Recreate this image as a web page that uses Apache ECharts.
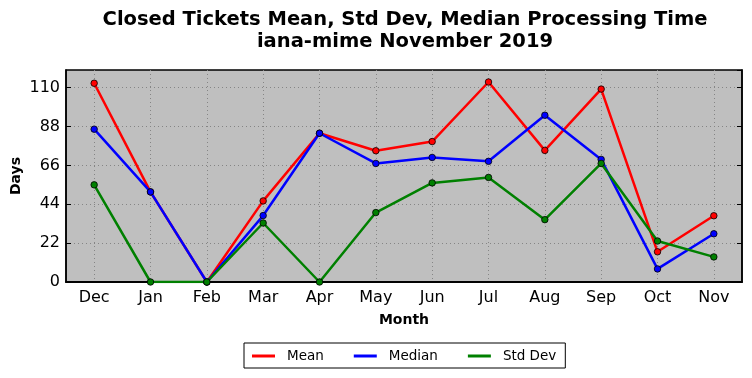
<!DOCTYPE html>
<html><head><meta charset="utf-8">
<script src="https://cdn.jsdelivr.net/npm/echarts@6/dist/echarts.min.js"></script>
<style>html,body{margin:0;padding:0;background:#fff}#c{width:752px;height:378px}</style>
</head><body><div id="c"></div>
<script>
const months = ['Dec','Jan','Feb','Mar','Apr','May','Jun','Jul','Aug','Sep','Oct','Nov'];
const meanVals = [112.5, 51.0, 0, 45.9, 84.2, 74.3, 79.5, 113.2, 74.5, 109.2, 17.1, 37.5];
const medianVals = [86.5, 51.0, 0, 37.6, 84.2, 67.1, 70.5, 68.3, 94.4, 69.4, 7.4, 27.3];
const stdVals = [55.0, 0, 0, 33.4, 0, 39.3, 56.1, 59.2, 35.3, 67.1, 23.2, 14.2];
const yTicks = [0, 22, 44, 66, 88, 110];

const F = 'DejaVu Sans';
const chart = echarts.init(document.getElementById('c'));
function mk(name, data, color) {
  return {
    name, type: 'line', data, symbol: 'circle', symbolSize: 6.5,
    lineStyle: {color, width: 2.5},
    itemStyle: {color, borderColor: '#000', borderWidth: 0.8},
    emphasis: {disabled: true}
  };
}
const grid = {left: 66, right: 10, top: 70, bottom: 96, show: true, backgroundColor: '#bfbfbf',
  borderColor: '#000', borderWidth: 1.5, containLabel: false, outerBoundsMode: 'none', z: 0};
chart.setOption({
  animation: false,
  title: {
    text: 'Closed Tickets Mean, Std Dev, Median Processing Time\niana-mime November 2019',
    left: 400, top: 4, textAlign: 'center',
    textStyle: {fontFamily: F, fontWeight: 'bold', fontSize: 19.5, color: '#000', lineHeight: 22}
  },
  grid,
  legend: {
    left: 244, top: 343, orient: 'horizontal',
    borderColor: '#000', borderWidth: 1, padding: [6, 9, 5, 8],
    itemWidth: 23, itemHeight: 3, itemGap: 30, icon: 'rect',
    itemStyle: {borderWidth: 0},
    textStyle: {fontFamily: F, fontSize: 13.5, color: '#000', padding: [0, 0, 0, 7]},
    data: ['Mean', 'Median', 'Std Dev']
  },
  xAxis: [{
    type: 'category', data: months, boundaryGap: true,
    name: 'Month', nameLocation: 'middle', nameGap: 31, nameMoveOverlap: false,
    nameTextStyle: {fontFamily: F, fontWeight: 'bold', fontSize: 14, color: '#000'},
    axisLine: {lineStyle: {color: '#000', width: 1.5}},
    axisTick: {alignWithLabel: true, inside: true, length: 5, lineStyle: {color: '#000'}},
    axisLabel: {fontFamily: F, fontSize: 16, color: '#000', margin: 8, interval: 0},
    splitLine: {show: true, interval: 0, alignWithLabel: true, lineStyle: {color: '#858585', type: [1, 3], width: 1}}
  }, {
    type: 'category', data: months, boundaryGap: true, position: 'top',
    axisLine: {show: true, lineStyle: {color: '#000', width: 1.5}},
    axisTick: {alignWithLabel: true, inside: true, length: 5, lineStyle: {color: '#000'}},
    axisLabel: {show: false}, splitLine: {show: false}
  }],
  yAxis: [{
    type: 'value', min: 0, max: 120, interval: 22,
    name: 'Days', nameLocation: 'middle', nameGap: 43, nameRotate: 90, nameMoveOverlap: false,
    nameTextStyle: {fontFamily: F, fontWeight: 'bold', fontSize: 14, color: '#000'},
    axisLine: {show: true, lineStyle: {color: '#000', width: 1.5}},
    axisTick: {show: true, inside: true, length: 5, lineStyle: {color: '#000'}},
    axisLabel: {fontFamily: F, fontSize: 16, color: '#000', margin: 6, showMaxLabel: false,
      formatter: v => yTicks.includes(v) ? String(v) : ''},
    splitLine: {show: true, showMaxLine: false, showMinLine: false, lineStyle: {color: '#858585', type: [1, 3], width: 1}}
  }, {
    type: 'value', min: 0, max: 120, interval: 22, position: 'right',
    axisLine: {show: true, lineStyle: {color: '#000', width: 1.5}},
    axisTick: {show: true, inside: true, length: 5, lineStyle: {color: '#000'}},
    axisLabel: {show: false}, splitLine: {show: false}
  }],
  series: [
    mk('Mean', meanVals, '#ff0000'),
    mk('Median', medianVals, '#0000ff'),
    mk('Std Dev', stdVals, '#008000')
  ]
});
</script></body></html>
